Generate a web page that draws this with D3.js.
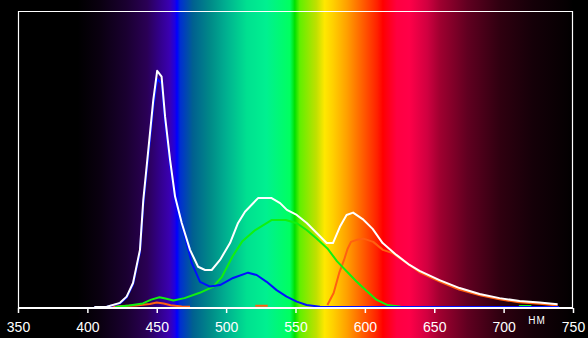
<!DOCTYPE html>
<html>
<head>
<meta charset="utf-8">
<script src="https://cdn.jsdelivr.net/npm/d3@7"></script>
<style>
  html, body { margin: 0; padding: 0; background: #000; }
  svg { display: block; }
  .x-axis text { fill: #fff; font-family: "Liberation Sans", Arial, sans-serif; font-size: 14px; }
  .x-axis line { stroke: #fff; stroke-width: 1.5; }
  .x-axis path { display: none; }
</style>
</head>
<body>
<div id="chart"></div>
<script>
// tick labels
const xTicks = [350, 400, 450, 500, 550, 600, 650, 700, 750];

// series: wavelength (nm) and relative value (null = gap)
const whiteNm  = [405, 409, 414, 423.5, 428.3, 432.9, 437.9, 440.3, 443.9, 447.5, 450.3, 453.5, 456, 459.6, 463.2, 468, 474, 479.8, 484.8, 489.6, 495.6, 502.8, 508.6, 513.6, 523, 532.8, 538.9, 543.8, 550.9, 558.1, 565.3, 572.5, 577, 582, 586.8, 591.5, 598.4, 605.6, 612.8, 622.7, 632.2, 639.4, 653.8, 668.3, 682.7, 697.1, 711.5, 725.9, 738.9];
const whiteVal = [0, 0, 0.001, 0.014, 0.035, 0.081, 0.193, 0.361, 0.53, 0.699, 0.798, 0.778, 0.643, 0.497, 0.373, 0.284, 0.193, 0.136, 0.125, 0.125, 0.159, 0.216, 0.284, 0.322, 0.368, 0.368, 0.351, 0.328, 0.311, 0.284, 0.25, 0.216, 0.216, 0.271, 0.311, 0.319, 0.297, 0.264, 0.216, 0.176, 0.142, 0.122, 0.091, 0.064, 0.044, 0.03, 0.02, 0.015, 0.009];

const blueNm  = [405, 414, 423.5, 428.3, 432.9, 437.9, 440.3, 443.9, 447.5, 450.3, 453.5, 456, 459.6, 463.2, 465.3, 470.4, 475.2, 481.2, 488.4, 495.6, 505, 515.8, 522, 529.2, 536.4, 543.6, 550.9, 558, 567.6, 575, 740];
const blueVal = [0, 0.001, 0.012, 0.032, 0.076, 0.185, 0.345, 0.51, 0.675, 0.77, 0.755, 0.625, 0.48, 0.365, 0.33, 0.236, 0.149, 0.085, 0.069, 0.074, 0.098, 0.116, 0.108, 0.085, 0.057, 0.035, 0.018, 0.007, 0.001, 0, 0];

const greenNm  = [420, 430, 440, 446, 452, 457, 462, 470, 481, 490.5, 497, 504.5, 511.5, 521, 533, 543, 551, 558, 565, 573, 580, 587, 594, 601.5, 608.5, 616, 626, 680, 711, 720];
const greenVal = [0, 0.005, 0.012, 0.025, 0.033, 0.028, 0.022, 0.03, 0.048, 0.068, 0.102, 0.17, 0.221, 0.26, 0.294, 0.294, 0.283, 0.26, 0.232, 0.198, 0.154, 0.12, 0.086, 0.053, 0.024, 0.007, 0.001, null, 0.003, 0.003];

const orangeNm  = [418, 425, 435, 445, 450, 455, 460, 468, 474, 490, 521, 530, 550, 573, 577.5, 581.5, 585, 587.5, 590, 593.6, 599, 606, 613, 620, 630, 640, 654, 668, 683, 697, 711, 726, 739];
const orangeVal = [0.002, 0.003, 0.005, 0.01, 0.015, 0.012, 0.006, 0.002, 0.001, null, 0.004, 0.004, null, 0.007, 0.047, 0.115, 0.159, 0.196, 0.22, 0.226, 0.231, 0.22, 0.193, 0.182, 0.149, 0.116, 0.086, 0.059, 0.04, 0.026, 0.016, 0.011, 0.005];

// spectrum background
const spectrumNm  = [350, 393, 409, 428, 443, 452, 459, 463, 464.6, 467, 476, 488, 500, 515, 529, 546, 549.5, 553, 565, 571, 577, 587, 598, 609, 613, 623, 632, 645, 654, 674, 697, 721, 746, 750];
const spectrumCol = ["#000000", "#000000", "#0a0010", "#1a0030", "#2a0055", "#32008a", "#3a00b0", "#2000e0", "#0000ff", "#0030d0", "#006090", "#008888", "#00b090", "#00e090", "#00f090", "#00ff60", "#00e000", "#60f000", "#c0e000", "#ffe800", "#ffd000", "#ffa000", "#ff6000", "#ff2000", "#ff0000", "#ff0040", "#ff0048", "#d00040", "#a00030", "#600020", "#300010", "#150008", "#050002", "#000000"];

const W = 588, H = 338;
const margin = { top: 11, right: 15, bottom: 31, left: 18 };
const baseY = 307;

const svg = d3.select("#chart")
    .append("svg")
    .attr("width", W)
    .attr("height", H);

const x = d3.scaleLinear().domain([350, 750]).range([margin.left, W - margin.right]);
const y = d3.scaleLinear().domain([0, 1]).range([baseY, margin.top]);

// gradient
const grad = svg.append("defs").append("linearGradient")
    .attr("id", "spectrum")
    .attr("gradientUnits", "userSpaceOnUse")
    .attr("x1", x(350)).attr("x2", x(750))
    .attr("y1", 0).attr("y2", 0);
grad.selectAll("stop")
    .data(spectrumNm)
    .join("stop")
    .attr("offset", d => (d - 350) / 400)
    .attr("stop-color", (d, i) => spectrumCol[i]);

svg.append("rect").attr("width", W).attr("height", H).attr("fill", "#000");
svg.append("rect")
    .attr("x", x(350)).attr("y", 0)
    .attr("width", x(750) - x(350)).attr("height", H)
    .attr("fill", "url(#spectrum)");

// frame
svg.append("path")
    .attr("d", `M${x(350) + 0.5},${baseY + 1}V${margin.top + 0.5}H${x(750) - 0.5}V${baseY + 1}`)
    .attr("fill", "none")
    .attr("stroke", "#fff")
    .attr("stroke-width", 1.2);

// curves
const series = [
    { nm: orangeNm, val: orangeVal, color: "#ff6010" },
    { nm: greenNm, val: greenVal, color: "#10f010" },
    { nm: blueNm, val: blueVal, color: "#0010ff" },
    { nm: whiteNm, val: whiteVal, color: "#ffffff" }
];

const line = d3.line()
    .defined(d => d[1] !== null)
    .x(d => x(d[0]))
    .y(d => y(d[1]));

series.forEach(s => {
    svg.append("path")
        .datum(s.nm.map((n, i) => [n, s.val[i]]))
        .attr("d", line)
        .attr("fill", "none")
        .attr("stroke", s.color)
        .attr("stroke-width", 2)
        .attr("stroke-linejoin", "round");
});

// x axis
svg.append("line")
    .attr("x1", x(350)).attr("x2", x(750))
    .attr("y1", baseY + 1).attr("y2", baseY + 1)
    .attr("stroke", "#fff")
    .attr("stroke-width", 2);

svg.append("g")
    .attr("class", "x-axis")
    .attr("transform", `translate(0,${baseY + 1})`)
    .call(d3.axisBottom(x).tickValues(xTicks).tickSize(5).tickPadding(9).tickFormat(d3.format("d")));

// unit label
svg.append("text")
    .attr("x", 537)
    .attr("y", 324)
    .attr("text-anchor", "middle")
    .attr("fill", "#fff")
    .style("font-family", "Liberation Sans, Arial, sans-serif")
    .style("font-size", "10px")
    .style("letter-spacing", "1px")
    .text("HM");
</script>
</body>
</html>
